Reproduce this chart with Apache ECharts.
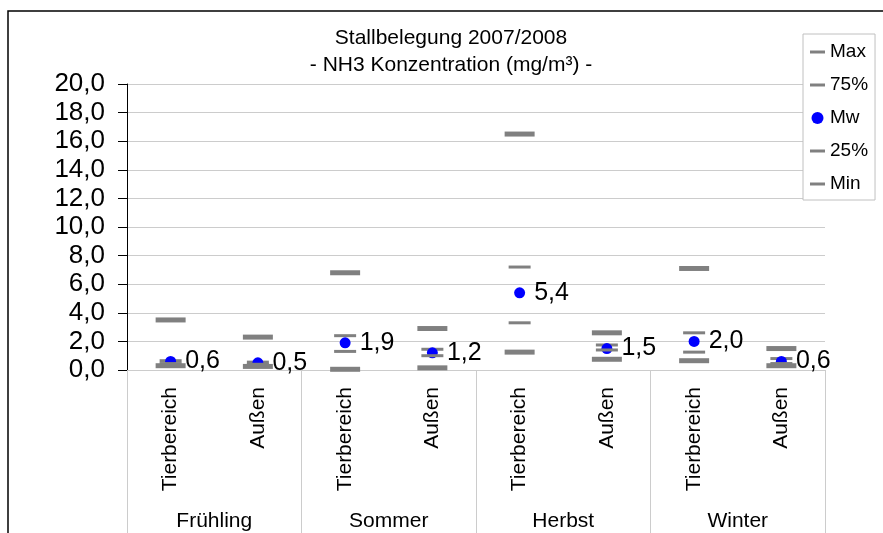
<!DOCTYPE html>
<html>
<head>
<meta charset="utf-8">
<script src="https://cdn.jsdelivr.net/npm/echarts@6/dist/echarts.min.js"></script>
<style>
html,body{margin:0;padding:0;background:#fff;}
#c{width:883px;height:533px;}
</style>
</head>
<body>
<div id="c"></div>
<script>
const categories = ['Tierbereich','Außen','Tierbereich','Außen','Tierbereich','Außen','Tierbereich','Außen'];
const seasons = ['Frühling','Sommer','Herbst','Winter'];
const yTicks = [0,2,4,6,8,10,12,14,16,18,20];
const maxVals = [3.5, 2.3, 6.8, 2.9, 16.5, 2.6, 7.1, 1.5];
const q75Vals = [0.65, 0.55, 2.4, 1.45, 7.2, 1.75, 2.6, 0.8];
const mwVals  = [0.6, 0.5, 1.9, 1.2, 5.4, 1.5, 2.0, 0.6];
const q25Vals = [0.45, 0.4, 1.3, 1.0, 3.3, 1.4, 1.25, 0.45];
const minVals = [0.3, 0.25, 0.05, 0.15, 1.25, 0.75, 0.65, 0.3];

const FONT = "'Liberation Sans', Arial, sans-serif";
const GRID_COLOR = '#cccccc';
const pairs = arr => arr.map((v, i) => [i, v]);
const fmt = v => Number(v).toFixed(1).replace('.', ',');
const LINE_ICON = 'path://M0,0h5v1h-5z';

const chart = echarts.init(document.getElementById('c'), null, {renderer: 'canvas'});
chart.setOption({
  animation: false,
  backgroundColor: '#fff',
  textStyle: {fontFamily: FONT},
  graphic: [{
    type: 'rect', z: -10, silent: true,
    shape: {x: 8, y: 11, width: 1000, height: 1000},
    style: {fill: 'none', stroke: '#000', lineWidth: 1.5}
  }],
  title: {
    text: 'Stallbelegung 2007/2008\n- NH3 Konzentration (mg/m³) -',
    left: 451, top: 25, textAlign: 'center', padding: 0,
    textStyle: {fontFamily: FONT, fontSize: 21, fontWeight: 'normal', color: '#000', lineHeight: 27}
  },
  legend: {
    orient: 'vertical', left: 803, top: 34,
    padding: [8, 7, 6, 7], itemGap: 13, itemWidth: 15, itemHeight: 12,
    borderColor: '#c0c0c0', borderWidth: 1, backgroundColor: '#fff',
    textStyle: {fontFamily: FONT, fontSize: 19, color: '#000', lineHeight: 20},
    data: [
      {name: 'Max', icon: LINE_ICON},
      {name: '75%', icon: LINE_ICON},
      {name: 'Mw', icon: 'circle'},
      {name: '25%', icon: LINE_ICON},
      {name: 'Min', icon: LINE_ICON}
    ]
  },
  grid: {left: 127, right: 58, top: 84, bottom: 163, containLabel: false},
  xAxis: [{
    type: 'category', data: categories, position: 'bottom',
    axisLine: {lineStyle: {color: GRID_COLOR, width: 1}},
    axisTick: {show: false},
    axisLabel: {rotate: 90, interval: 0, margin: 17, fontSize: 21, color: '#000', fontFamily: FONT}
  }, {
    type: 'category', data: seasons, position: 'bottom',
    axisLine: {show: false},
    axisTick: {show: true, length: 163, lineStyle: {color: GRID_COLOR, width: 1}},
    axisLabel: {interval: 0, margin: 141, fontSize: 21, color: '#000', fontFamily: FONT}
  }],
  yAxis: {
    type: 'value', min: yTicks[0], max: yTicks[yTicks.length - 1], interval: yTicks[1] - yTicks[0],
    axisLine: {show: true, lineStyle: {color: '#000', width: 1}},
    axisTick: {show: true, length: 9, lineStyle: {color: '#000'}},
    axisLabel: {formatter: fmt, fontSize: 26, color: '#000', margin: 22, fontFamily: FONT},
    splitLine: {show: true, lineStyle: {color: GRID_COLOR, width: 1}}
  },
  series: [
    {name: 'Max', type: 'scatter', data: pairs(maxVals), symbol: 'rect', symbolSize: [30, 5],
     itemStyle: {color: '#808080', opacity: 1}, silent: true},
    {name: '75%', type: 'scatter', data: pairs(q75Vals), symbol: 'rect', symbolSize: [22, 3],
     itemStyle: {color: '#808080', opacity: 1}, silent: true},
    {name: 'Mw', type: 'scatter', data: pairs(mwVals), symbol: 'circle', symbolSize: 11,
     itemStyle: {color: '#0000ff', opacity: 1}, silent: true,
     label: {show: true, position: 'right', distance: 9, formatter: p => fmt(p.value[1]),
             fontSize: 25, color: '#000', fontFamily: FONT}},
    {name: '25%', type: 'scatter', data: pairs(q25Vals), symbol: 'rect', symbolSize: [22, 3],
     itemStyle: {color: '#808080', opacity: 1}, silent: true},
    {name: 'Min', type: 'scatter', data: pairs(minVals), symbol: 'rect', symbolSize: [30, 5],
     itemStyle: {color: '#808080', opacity: 1}, silent: true}
  ]
});
</script>
</body>
</html>
